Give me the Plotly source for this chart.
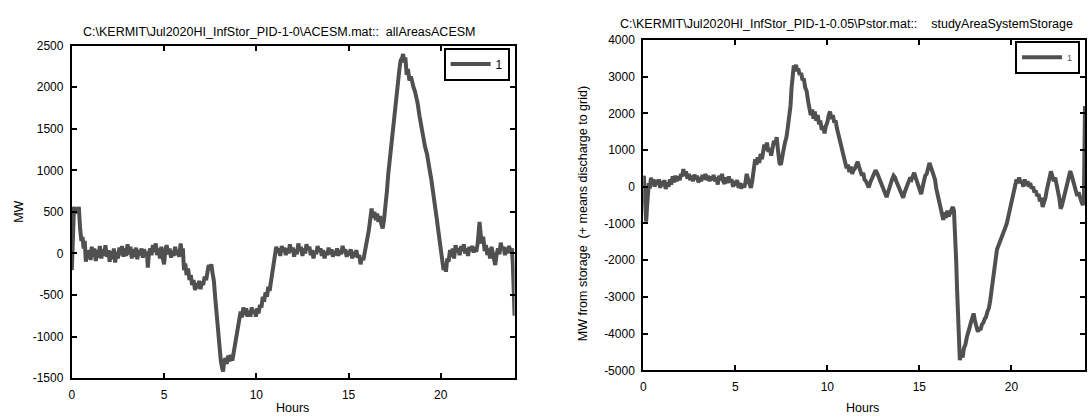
import plotly.graph_objects as go

# ---------------- data ----------------
acesm_hours = [
    0.00, 0.03, 0.08, 0.12, 0.18, 0.25, 0.32, 0.38, 0.45, 0.52,
    0.58, 0.64, 0.70, 0.76, 0.82, 0.88, 0.95, 1.02, 1.08, 1.15,
    1.22, 1.30, 1.38, 1.45, 1.52, 1.60, 1.68, 1.75, 1.82, 1.90,
    1.98, 2.05, 2.12, 2.20, 2.28, 2.35, 2.42, 2.50, 2.58, 2.65,
    2.72, 2.80, 2.88, 2.95, 3.02, 3.10, 3.18, 3.25, 3.32, 3.40,
    3.48, 3.55, 3.62, 3.70, 3.78, 3.85, 3.92, 4.00, 4.07, 4.12,
    4.18, 4.25, 4.32, 4.40, 4.47, 4.55, 4.62, 4.70, 4.78, 4.85,
    4.92, 5.00, 5.07, 5.14, 5.22, 5.30, 5.38, 5.45, 5.52, 5.60,
    5.68, 5.75, 5.82, 5.90, 5.96, 6.02, 6.08, 6.15, 6.22, 6.30,
    6.38, 6.45, 6.52, 6.60, 6.68, 6.75, 6.82, 6.90, 6.98, 7.05,
    7.12, 7.20, 7.28, 7.35, 7.42, 7.50, 7.56, 7.63, 7.70, 7.78,
    7.85, 7.92, 8.00, 8.08, 8.15, 8.20, 8.26, 8.33, 8.40, 8.48,
    8.55, 8.62, 8.70, 8.78, 8.85, 8.92, 9.00, 9.08, 9.15, 9.22,
    9.30, 9.38, 9.45, 9.52, 9.60, 9.68, 9.75, 9.82, 9.90, 9.98,
    10.05, 10.12, 10.20, 10.28, 10.35, 10.42, 10.50, 10.58, 10.65, 10.72,
    10.80, 10.88, 10.95, 11.02, 11.08, 11.15, 11.22, 11.30, 11.38, 11.45,
    11.52, 11.60, 11.68, 11.75, 11.82, 11.90, 11.98, 12.05, 12.12, 12.20,
    12.28, 12.35, 12.42, 12.50, 12.58, 12.65, 12.72, 12.80, 12.88, 12.95,
    13.02, 13.10, 13.18, 13.25, 13.32, 13.40, 13.48, 13.55, 13.62, 13.70,
    13.78, 13.85, 13.92, 14.00, 14.08, 14.15, 14.22, 14.30, 14.38, 14.45,
    14.52, 14.60, 14.68, 14.75, 14.82, 14.90, 14.98, 15.05, 15.12, 15.20,
    15.28, 15.35, 15.42, 15.50, 15.58, 15.65, 15.72, 15.80, 15.88, 15.95,
    16.02, 16.10, 16.18, 16.25, 16.32, 16.40, 16.48, 16.55, 16.62, 16.70,
    16.78, 16.85, 16.92, 17.00, 17.08, 17.15, 17.22, 17.30, 17.38, 17.45,
    17.52, 17.60, 17.68, 17.75, 17.82, 17.90, 17.96, 18.02, 18.08, 18.15,
    18.22, 18.30, 18.38, 18.45, 18.52, 18.60, 18.68, 18.75, 18.85, 18.95,
    19.05, 19.15, 19.25, 19.32, 19.40, 19.48, 19.55, 19.62, 19.70, 19.78,
    19.85, 19.92, 20.00, 20.08, 20.15, 20.22, 20.28, 20.35, 20.42, 20.50,
    20.58, 20.65, 20.72, 20.80, 20.88, 20.95, 21.02, 21.10, 21.18, 21.25,
    21.32, 21.40, 21.48, 21.55, 21.62, 21.70, 21.78, 21.85, 21.92, 22.00,
    22.05, 22.10, 22.15, 22.22, 22.30, 22.38, 22.45, 22.52, 22.60, 22.67,
    22.75, 22.82, 22.90, 22.95, 23.02, 23.10, 23.18, 23.25, 23.32, 23.40,
    23.48, 23.55, 23.62, 23.70, 23.78, 23.85, 23.90, 23.95, 24.00,
]
acesm_mw = [
    -200, 100, 450, 560, 480, 550, 500, 560, 300, 150,
    200, 60, 150, -100, 30, -60, 40, -80, 80, -40,
    60, -90, 40, -50, 90, -60, 50, -30, 100, -40,
    40, -100, 30, -70, 60, -110, 20, -60, 70, -20,
    90, -40, 60, -30, 110, -10, 80, -60, 50, -40,
    70, -70, 40, -20, 60, -50, 50, -30, 20, -170,
    0, 60, -20, 100, 20, 120, -20, 60, -60, 80,
    -40, -130, 40, 100, -10, 60, -50, 30, -30, 80,
    -20, 40, -40, 120, 0, 60, -200, -120, -260, -180,
    -320, -260, -380, -320, -440, -360, -420, -330, -430, -340,
    -380, -280, -320, -220, -140, -180, -130, -240, -330, -550,
    -750, -950, -1100, -1300, -1380, -1420, -1300, -1260, -1330, -1230,
    -1300, -1220, -1290, -1180, -1050, -950, -850, -760, -700, -770,
    -650, -740, -660, -760, -690, -760, -650, -720, -680, -760,
    -660, -720, -620, -650, -520, -580, -470, -520, -400, -450,
    -330, -280, -150, -30, 80, 10, 60, -30, 90, 20,
    70, -20, 60, 0, 110, 20, 70, -40, 50, -10,
    120, 30, 80, -30, 60, 0, 110, 40, 80, -20,
    40, -60, 30, -10, 90, 20, 60, -30, 40, -60,
    20, -20, 70, -10, 50, -40, 30, -20, 60, -30,
    40, -10, 90, 10, 50, -40, 30, -20, 50, -60,
    20, -40, 40, -50, -20, -130, -50, -80, 40, 80,
    180, 280, 420, 540, 430, 500, 400, 480, 380, 450,
    350, 300, 400, 550, 750, 950, 1100, 1300, 1500, 1620,
    1800, 1950, 2100, 2200, 2320, 2350, 2400, 2300, 2360, 2150,
    2220, 2080, 2130, 2050, 2000, 1950, 1880, 1800, 1650, 1500,
    1400, 1280, 1200, 1060, 1000, 900, 800, 720, 560, 420,
    300, 180, 20, -120, -200, -120, -220, -60, -100, 40,
    -40, 60, -60, 100, 20, 60, -20, 90, 30, 110,
    0, 60, -30, 80, 30, 90, 10, 70, 20, 120,
    230, 380, 260, 120, 200, 30, 100, -20, 60, -60,
    80, 10, -70, -140, -20, 60, -10, 130, 40, 80,
    -20, 70, 0, 90, 20, 60, -100, -400, -750,
]

pstor_hours = [
    0.00, 0.04, 0.08, 0.12, 0.16, 0.20, 0.25, 0.30, 0.36, 0.42,
    0.48, 0.55, 0.62, 0.70, 0.78, 0.85, 0.92, 1.00, 1.08, 1.15,
    1.22, 1.30, 1.38, 1.45, 1.52, 1.60, 1.68, 1.75, 1.82, 1.90,
    1.98, 2.05, 2.12, 2.18, 2.25, 2.32, 2.40, 2.48, 2.55, 2.62,
    2.70, 2.78, 2.85, 2.92, 3.00, 3.08, 3.15, 3.22, 3.30, 3.38,
    3.45, 3.52, 3.60, 3.68, 3.75, 3.82, 3.90, 3.98, 4.05, 4.12,
    4.20, 4.28, 4.35, 4.42, 4.50, 4.58, 4.65, 4.72, 4.80, 4.88,
    4.95, 5.02, 5.10, 5.18, 5.25, 5.32, 5.40, 5.48, 5.55, 5.62,
    5.70, 5.78, 5.85, 5.92, 6.00, 6.08, 6.15, 6.22, 6.30, 6.38,
    6.45, 6.52, 6.58, 6.65, 6.72, 6.80, 6.88, 6.95, 7.02, 7.10,
    7.18, 7.25, 7.32, 7.40, 7.48, 7.55, 7.62, 7.70, 7.78, 7.85,
    7.92, 8.00, 8.06, 8.12, 8.18, 8.24, 8.30, 8.36, 8.42, 8.50,
    8.58, 8.65, 8.72, 8.80, 8.88, 8.95, 9.02, 9.10, 9.18, 9.25,
    9.32, 9.40, 9.48, 9.55, 9.62, 9.70, 9.78, 9.85, 9.92, 10.00,
    10.08, 10.15, 10.22, 10.30, 10.38, 10.45, 10.52, 10.60, 10.68, 10.75,
    10.82, 10.90, 10.98, 11.05, 11.12, 11.20, 11.28, 11.35, 11.42, 11.50,
    11.58, 11.65, 11.72, 11.80, 11.88, 11.95, 12.02, 12.10, 12.18, 12.25,
    12.32, 12.40, 12.48, 12.55, 12.62, 12.70, 12.78, 12.85, 12.92, 13.00,
    13.08, 13.15, 13.22, 13.30, 13.38, 13.45, 13.52, 13.60, 13.68, 13.75,
    13.82, 13.90, 13.98, 14.05, 14.12, 14.20, 14.28, 14.35, 14.42, 14.50,
    14.58, 14.65, 14.72, 14.80, 14.88, 14.95, 15.02, 15.10, 15.18, 15.25,
    15.32, 15.40, 15.48, 15.55, 15.62, 15.70, 15.78, 15.85, 15.92, 16.00,
    16.08, 16.15, 16.22, 16.30, 16.38, 16.45, 16.52, 16.60, 16.68, 16.75,
    16.82, 16.88, 16.95, 17.00, 17.05, 17.10, 17.15, 17.20, 17.27, 17.35,
    17.42, 17.50, 17.58, 17.65, 17.72, 17.80, 17.88, 17.95, 18.02, 18.10,
    18.18, 18.25, 18.32, 18.40, 18.48, 18.55, 18.62, 18.70, 18.78, 18.85,
    18.92, 19.00, 19.08, 19.15, 19.22, 19.30, 19.38, 19.45, 19.52, 19.60,
    19.68, 19.75, 19.82, 19.90, 19.98, 20.05, 20.12, 20.20, 20.28, 20.35,
    20.42, 20.50, 20.58, 20.65, 20.72, 20.80, 20.88, 20.95, 21.02, 21.10,
    21.18, 21.25, 21.32, 21.40, 21.48, 21.55, 21.62, 21.70, 21.78, 21.85,
    21.92, 22.00, 22.08, 22.15, 22.22, 22.30, 22.38, 22.45, 22.52, 22.60,
    22.68, 22.75, 22.82, 22.90, 22.98, 23.05, 23.12, 23.20, 23.28, 23.35,
    23.42, 23.50, 23.58, 23.65, 23.72, 23.80, 23.88, 23.94, 24.00,
]
pstor_mw = [
    200, 300, -300, -800, -950, -600, -200, 100, -50, 250,
    80, 200, 0, 180, 60, 200, -30, 150, 20, 180,
    -60, 120, 0, 200, 60, 280, 120, 300, 150, 280,
    180, 350, 280, 480, 300, 420, 220, 350, 180, 300,
    150, 330, 200, 300, 120, 260, 150, 320, 200, 350,
    180, 300, 150, 280, 180, 320, 150, 250, 60, 300,
    180, 350, 150, 80, 250, 100, 280, 120, 200, 0,
    150, 40, 180, -30, 100, -50, 80, -20, 100, 350,
    200, 100, -30, 150, 450, 750, 600, 800, 650, 900,
    750, 950, 1150, 1000, 1200, 950, 1050, 850, 1100, 1250,
    1150, 1350, 1000, 650, 600, 750, 1000, 1200, 1350, 1600,
    1900, 2200, 2700, 3100, 3300, 3200, 3320, 3150, 3220, 3050,
    3100, 2900, 2950, 2700, 2600, 2350, 2150, 1950, 2100, 1850,
    2050, 1800, 1950, 1700, 1800, 1550, 1650, 1450, 1650, 1750,
    1950, 2050, 1850, 1950, 1750, 1800, 1600, 1450, 1250, 1100,
    950, 800, 650, 500, 600, 400, 550, 350, 450, 500,
    600, 680, 550, 420, 300, 380, 200, 150, 50, -20,
    100, 180, 300, 350, 450, 380, 300, 180, 100, 0,
    -100, -180, -280, -150, 0, 80, 200, 300, 250, 150,
    50, -30, -150, -250, -300, -150, -50, 50, 150, 250,
    200, 300, 380, 250, 120, 0, -100, -200, 0, 200,
    300, 350, 500, 650, 550, 450, 350, 200, -50, -250,
    -400, -600, -800, -900, -700, -850, -650, -800, -700, -620,
    -550, -650, -1200, -2000, -2800, -3800, -4400, -4720, -4550, -4650,
    -4400, -4300, -4100, -4000, -3850, -3700, -3500, -3450, -3650, -3800,
    -3950, -3850, -3900, -3750, -3700, -3600, -3550, -3400, -3300, -3100,
    -2800, -2500, -2100, -1800, -1700, -1600, -1500, -1450, -1300, -1250,
    -1100, -1000, -850, -700, -500, -350, -150, 50, 200, 100,
    250, 100, 150, 0, 200, 50, 150, 0, 100, -50,
    0, -150, -100, -250, -200, -400, -300, -550, -450, -300,
    -100, 100, 250, 420, 300, 150, 250, 0, -100, -300,
    -600, -500, -350, -150, 0, 150, 250, 430, 300, 150,
    50, -100, -250, -150, -300, -400, -500, -300, 2200,
]
assert len(acesm_hours) == len(acesm_mw)
assert len(pstor_hours) == len(pstor_mw)

x_ticks = [0, 5, 10, 15, 20]
left_y_ticks = [-1500, -1000, -500, 0, 500, 1000, 1500, 2000, 2500]
right_y_ticks = [-5000, -4000, -3000, -2000, -1000, 0, 1000, 2000, 3000, 4000]

left_title = "C:\\KERMIT\\Jul2020HI_InfStor_PID-1-0\\ACESM.mat::  allAreasACESM"
right_title = "C:\\KERMIT\\Jul2020HI_InfStor_PID-1-0.05\\Pstor.mat::    studyAreaSystemStorage"

# ---------------- figure ----------------
W, H = 1089, 417
FONT = "Liberation Sans, Arial, sans-serif"
LINE = "#505050"


def px_x(p):
    return p / W


def px_y(p):
    return 1 - p / H


fig = go.Figure()
fig.add_trace(go.Scatter(x=acesm_hours, y=acesm_mw, mode="lines", name="1",
                         line=dict(color=LINE, width=4), xaxis="x", yaxis="y", legend="legend"))
fig.add_trace(go.Scatter(x=pstor_hours, y=pstor_mw, mode="lines", name="1",
                         line=dict(color=LINE, width=4), xaxis="x2", yaxis="y2", legend="legend2"))

axis_common = dict(showline=True, linecolor="black", linewidth=2, mirror="allticks",
                   ticks="inside", ticklen=5, tickwidth=2, tickcolor="black",
                   showgrid=False, zeroline=False, ticklabelstandoff=4,
                   tickfont=dict(family=FONT, size=12, color="black"))


def labels(vals):
    return [str(v) for v in vals]


fig.update_layout(
    width=W, height=H,
    margin=dict(l=0, r=0, t=0, b=0),
    paper_bgcolor="white", plot_bgcolor="white",
    showlegend=True,
    xaxis=dict(domain=[px_x(69), px_x(513)], range=[0, 24], tickvals=x_ticks,
               ticktext=labels(x_ticks), anchor="y", **axis_common),
    yaxis=dict(domain=[px_y(384), px_y(40)], range=[-1500, 2500], tickvals=left_y_ticks,
               ticktext=labels(left_y_ticks), anchor="x", **axis_common),
    xaxis2=dict(domain=[px_x(642), px_x(1085)], range=[0, 24], tickvals=x_ticks,
                ticktext=labels(x_ticks), anchor="y2", **axis_common),
    yaxis2=dict(domain=[px_y(376), px_y(34)], range=[-5000, 4000], tickvals=right_y_ticks,
                ticktext=labels(right_y_ticks), anchor="x2", **axis_common),
    legend=dict(x=px_x(508), y=px_y(42), xanchor="right", yanchor="top",
                bordercolor="black", borderwidth=2, bgcolor="white", itemwidth=40,
                font=dict(family=FONT, size=12, color="black")),
    legend2=dict(x=px_x(1080), y=px_y(35), xanchor="right", yanchor="top",
                 bordercolor="black", borderwidth=2, bgcolor="white", itemwidth=40,
                 font=dict(family=FONT, size=9, color="#555555")),
)

ann = dict(xref="paper", yref="paper", showarrow=False)
label_font = dict(family=FONT, size=12.5, color="black")
fig.add_annotation(text=left_title, x=px_x(277), y=px_y(26), xanchor="center", yanchor="middle",
                   font=label_font, **ann)
fig.add_annotation(text=right_title, x=px_x(846), y=px_y(18), xanchor="center", yanchor="middle",
                   font=label_font, **ann)
fig.add_annotation(text="Hours", x=px_x(290), y=px_y(415), xanchor="center", yanchor="middle",
                   font=label_font, **ann)
fig.add_annotation(text="Hours", x=px_x(862), y=px_y(415), xanchor="center", yanchor="middle",
                   font=label_font, **ann)
fig.add_annotation(text="MW", x=px_x(16), y=px_y(212), textangle=-90, xanchor="center", yanchor="middle",
                   font=label_font, **ann)
fig.add_annotation(text="MW from storage  (+ means discharge to grid)", x=px_x(581), y=px_y(214),
                   textangle=-90, xanchor="center", yanchor="middle", font=label_font, **ann)

fig.write_html("out.html")
